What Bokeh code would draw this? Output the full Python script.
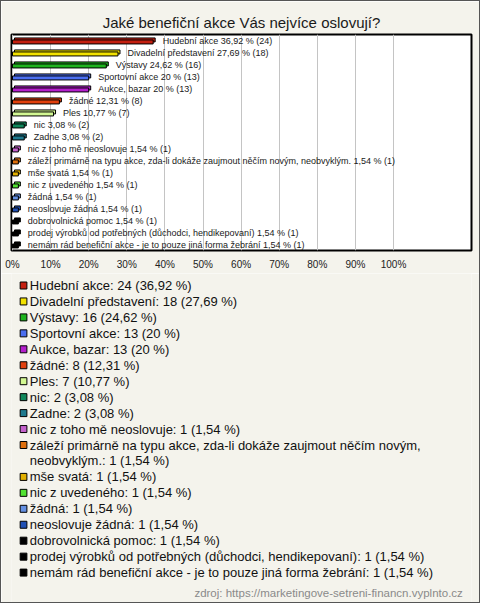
import textwrap
from bokeh.plotting import figure
from bokeh.models import Range1d, FixedTicker, ColumnDataSource
from bokeh.layouts import column
from bokeh.embed import file_html
from bokeh.resources import INLINE
from bokeh.core.properties import value

# ---------------- data ----------------
title_text = "Jaké benefiční akce Vás nejvíce oslovují?"
categories = [
    "Hudební akce",
    "Divadelní představení",
    "Výstavy",
    "Sportovní akce",
    "Aukce, bazar",
    "žádné",
    "Ples",
    "nic",
    "Zadne",
    "nic z toho mě neoslovuje",
    "záleží primárně na typu akce, zda-li dokáže zaujmout něčím novým, neobvyklým.",
    "mše svatá",
    "nic z uvedeného",
    "žádná",
    "neoslovuje žádná",
    "dobrovolnická pomoc",
    "prodej výrobků od potřebných (důchodci, hendikepovaní)",
    "nemám rád benefiční akce - je to pouze jiná forma žebrání",
]
counts = [24, 18, 16, 13, 13, 8, 7, 2, 2, 1, 1, 1, 1, 1, 1, 1, 1, 1]
percents = [36.92, 27.69, 24.62, 20, 20, 12.31, 10.77, 3.08, 3.08,
            1.54, 1.54, 1.54, 1.54, 1.54, 1.54, 1.54, 1.54, 1.54]
colors = ["#c41f10", "#f2e200", "#1fb41f", "#4a6ef0", "#b41fcc", "#e2400e",
          "#d2f892", "#11885c", "#1f7a8e", "#c462cc", "#e0700e", "#e2b000",
          "#52e232", "#6490e2", "#2050b4", "#000000", "#000000", "#000000"]
tick_values = [0, 10, 20, 30, 40, 50, 60, 70, 80, 90, 100]
tick_labels = ["0%", "10%", "20%", "30%", "40%", "50%", "60%", "70%", "80%", "90%", "100%"]
source_text = "zdroj: https://marketingove-setreni-financn.vyplnto.cz"

# ---------------- style ----------------
BG = "#f4f3ec"
FONT = "Liberation Sans"
W = 478
TOP_H = 272
LEG_H = 329
PX_PER_PCT = 3.81
ROW_PX = 12.0


def fmt(v):
    return f"{v:.2f}".rstrip("0").rstrip(".").replace(".", ",")


n = len(categories)
rows = list(range(n))
bar_labels = [f"{c} {fmt(v)} % ({k})" for c, v, k in zip(categories, percents, counts)]

dx = 2.0 / PX_PER_PCT
dy = 2.0 / ROW_PX
bar_h = 4.0 / ROW_PX

src = ColumnDataSource(dict(
    y_front=[r + 0.12 for r in rows],
    y_back=[r + 0.12 - dy for r in rows],
    y_lab=[r + 0.05 for r in rows],
    pct=percents,
    pct_back=[v + dx for v in percents],
    color=colors,
    label=bar_labels,
))

p = figure(width=W, height=TOP_H, output_backend="svg", toolbar_location=None,
           x_range=Range1d(-1.0 / PX_PER_PCT, 459.0 / PX_PER_PCT),
           y_range=Range1d(n - 0.5, -0.5), y_axis_location=None,
           min_border_left=10, min_border_right=8, min_border_top=33,
           min_border_bottom=23)
p.title.text = title_text
p.title.align = "center"
p.title.text_font = FONT
p.title.text_font_size = "15px"
p.title.text_font_style = "normal"
p.title.text_color = "#1a1a1a"
p.title.standoff = 8

p.background_fill_color = "white"
p.border_fill_color = BG
p.outline_line_color = "black"
p.outline_line_width = 2

p.ygrid.visible = False
p.xgrid.ticker = FixedTicker(ticks=tick_values)
p.xgrid.grid_line_color = "#c4c4c4"
p.xaxis.ticker = FixedTicker(ticks=tick_values)
p.xaxis.major_label_overrides = {float(t): s for t, s in zip(tick_values, tick_labels)}
p.xaxis.axis_line_color = None
p.xaxis.major_tick_line_color = None
p.xaxis.minor_tick_line_color = None
p.xaxis.major_tick_out = 0
p.xaxis.major_tick_in = 0
p.xaxis.major_label_standoff = 8
p.xaxis.major_label_text_font = FONT
p.xaxis.major_label_text_font_size = "10px"
p.xaxis.major_label_text_color = "#222222"

# 3D-looking bars: back face then front face
p.hbar(y="y_back", left=dx, right="pct_back", height=bar_h, source=src,
       fill_color="color", line_color="black", line_width=1)
p.hbar(y="y_front", left=0, right="pct", height=bar_h, source=src,
       fill_color="color", line_color="black", line_width=1)
p.text(x="pct", y="y_lab", text="label", source=src, x_offset=9.5,
       text_baseline="middle", text_align="left", text_font=value(FONT),
       text_font_size="9px", text_color="#1a1a1a")

# ---------------- legend figure ----------------
lp = figure(width=W, height=LEG_H, output_backend="svg", toolbar_location=None,
            x_range=Range1d(0, W), y_range=Range1d(LEG_H, 0), min_border=0,
            x_axis_location=None, y_axis_location=None)
lp.grid.visible = False
lp.outline_line_color = None
lp.background_fill_color = BG
lp.border_fill_color = BG

LEG_FIRST = 12.0
LEG_STEP = 15.95
sq_x, sq_y, sq_c, t_x, t_y, t_s = [], [], [], [], [], []
line = 0
for c, k, v, col in zip(categories, counts, percents, colors):
    full = f"{c}: {k} ({fmt(v)} %)"
    parts = textwrap.wrap(full, 72)
    sq_x.append(12.5)
    sq_y.append(LEG_FIRST + LEG_STEP * line)
    sq_c.append(col)
    for part in parts:
        t_x.append(19)
        t_y.append(LEG_FIRST + LEG_STEP * line)
        t_s.append(part)
        line += 1

lp.rect(x=sq_x, y=sq_y, width=7, height=7, fill_color=sq_c,
        line_color="black", line_width=1)
lp.text(x=t_x, y=t_y, text=t_s, text_baseline="middle", text_align="left",
        text_font=value(FONT), text_font_size="13px", text_color="#111111")
lp.text(x=[469], y=[LEG_H - 10], text=[source_text], text_baseline="middle",
        text_align="right", text_font=value(FONT), text_font_size="11.5px",
        text_color="#8a8a8a")

layout = column(p, lp, spacing=0, styles={"border": "1px solid #555555"})

open("out.html", "w").write(file_html(layout, INLINE))
